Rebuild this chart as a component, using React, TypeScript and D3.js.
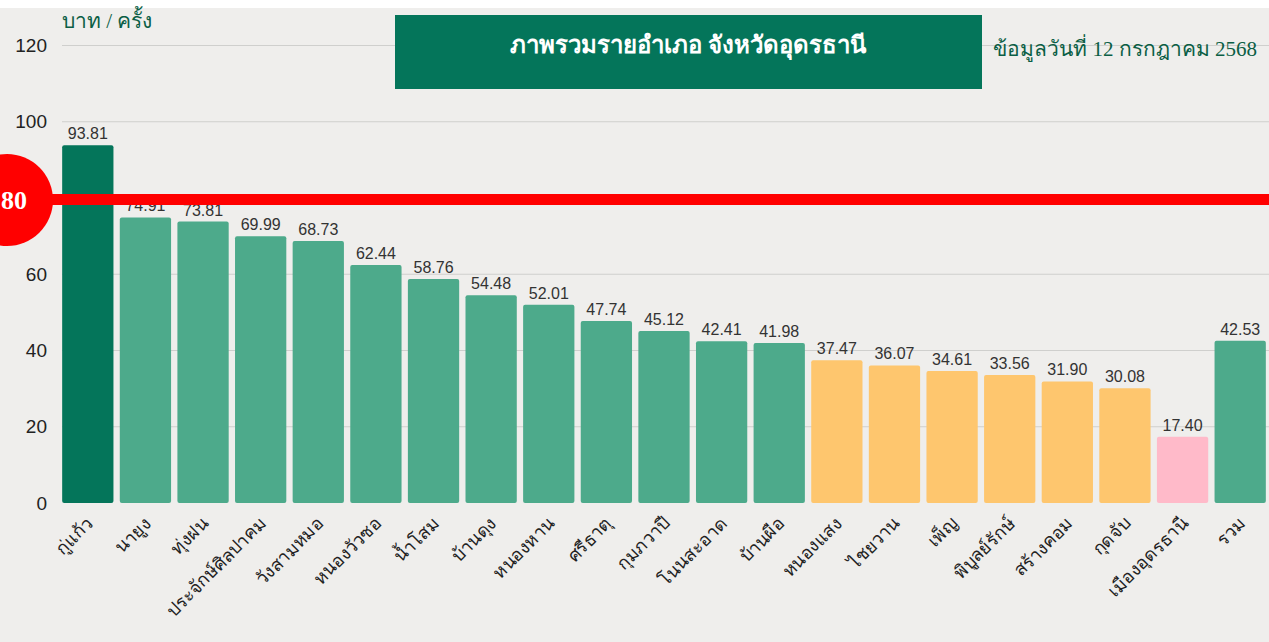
import * as d3 from 'd3';
import { useEffect, useRef } from 'react';

const districts = [
  'กู่แก้ว', 'นายูง', 'ทุ่งฝน', 'ประจักษ์ศิลปาคม', 'วังสามหมอ', 'หนองวัวซอ', 'น้ำโสม',
  'บ้านดุง', 'หนองหาน', 'ศรีธาตุ', 'กุมภวาปี', 'โนนสะอาด', 'บ้านผือ', 'หนองแสง',
  'ไชยวาน', 'เพ็ญ', 'พิบูลย์รักษ์', 'สร้างคอม', 'กุดจับ', 'เมืองอุดรธานี', 'รวม',
];
const values = [
  93.81, 74.91, 73.81, 69.99, 68.73, 62.44, 58.76, 54.48, 52.01, 47.74, 45.12,
  42.41, 41.98, 37.47, 36.07, 34.61, 33.56, 31.90, 30.08, 17.40, 42.53,
];
const yTicks = [0, 20, 40, 60, 80, 100, 120];
const target = 80;
const title = 'ภาพรวมรายอำเภอ จังหวัดอุดรธานี';
const dateNote = 'ข้อมูลวันที่ 12 กรกฎาคม 2568';
const unitLabel = 'บาท / ครั้ง';

const barColor = (i: number, v: number) => {
  if (i === 0) return '#04755a';
  if (districts[i] === 'รวม') return '#4daa8b';
  if (v >= 40) return '#4daa8b';
  if (v >= 20) return '#fec66e';
  return '#ffbac9';
};

const App = () => {
  const svgRef = useRef<SVGSVGElement | null>(null);

  useEffect(() => {
    if (!svgRef.current) return;
    const width = 1269;
    const height = 642;

    const svg = d3.select(svgRef.current)
      .html('')
      .attr('width', width)
      .attr('height', height);

    // background
    svg.append('rect').attr('width', width).attr('height', height).attr('fill', '#ffffff');
    svg.append('rect').attr('y', 8).attr('width', width).attr('height', height - 8).attr('fill', '#efeeec');

    const x = d3.scaleBand<string>()
      .domain(districts)
      .range([59, 1269])
      .paddingInner(0.11)
      .paddingOuter(0.055);

    const y = d3.scaleLinear()
      .domain([0, 120])
      .range([503, 45.5]);

    // gridlines
    svg.append('g')
      .selectAll('line')
      .data(yTicks.filter(t => t > 0))
      .enter().append('line')
      .attr('x1', 62)
      .attr('x2', width)
      .attr('y1', d => y(d))
      .attr('y2', d => y(d))
      .attr('stroke', '#cfcfcd')
      .attr('stroke-width', 1);

    // y tick labels
    svg.append('g')
      .selectAll('text')
      .data(yTicks)
      .enter().append('text')
      .attr('x', 47)
      .attr('y', d => y(d))
      .attr('dy', '0.35em')
      .attr('text-anchor', 'end')
      .attr('fill', '#222')
      .style('font-family', '"Liberation Sans", Arial, sans-serif')
      .style('font-size', '19px')
      .text(d => d);

    // bars
    svg.append('g')
      .selectAll('rect')
      .data(values)
      .enter().append('rect')
      .attr('x', (d, i) => x(districts[i])!)
      .attr('y', d => y(d))
      .attr('width', x.bandwidth())
      .attr('height', d => y(0) - y(d))
      .attr('rx', 2)
      .attr('fill', (d, i) => barColor(i, d));

    // value labels
    svg.append('g')
      .selectAll('text')
      .data(values)
      .enter().append('text')
      .attr('x', (d, i) => x(districts[i])! + x.bandwidth() / 2)
      .attr('y', d => y(d) - 6)
      .attr('text-anchor', 'middle')
      .attr('fill', '#333')
      .style('font-family', '"Liberation Sans", Arial, sans-serif')
      .style('font-size', '16px')
      .text(d => d.toFixed(2));

    // x labels
    svg.append('g')
      .selectAll('text')
      .data(districts)
      .enter().append('text')
      .attr('transform', d => `translate(${x(d)! + x.bandwidth() / 2 + 2},${520}) rotate(-45)`)
      .attr('text-anchor', 'end')
      .attr('dy', '0.35em')
      .attr('fill', '#222')
      .style('font-family', '"Noto Sans", sans-serif')
      .style('font-size', '18px')
      .text(d => d);

    // target line
    svg.append('line')
      .attr('x1', 30)
      .attr('x2', width)
      .attr('y1', y(target) + 1.5)
      .attr('y2', y(target) + 1.5)
      .attr('stroke', '#ff0000')
      .attr('stroke-width', 11);

    svg.append('circle')
      .attr('cx', 7)
      .attr('cy', y(target) + 2)
      .attr('r', 46)
      .attr('fill', '#ff0000');

    svg.append('text')
      .attr('x', 14)
      .attr('y', y(target) + 2)
      .attr('dy', '0.35em')
      .attr('text-anchor', 'middle')
      .attr('fill', '#fff')
      .style('font-family', '"Liberation Serif", serif')
      .style('font-weight', 'bold')
      .style('font-size', '26px')
      .text(target);

    // unit label
    svg.append('text')
      .attr('x', 62)
      .attr('y', 28)
      .attr('fill', '#0b5e45')
      .style('font-family', '"Liberation Serif", serif')
      .style('font-size', '21px')
      .text(unitLabel);

    // title box
    svg.append('rect')
      .attr('x', 395)
      .attr('y', 15)
      .attr('width', 587)
      .attr('height', 74)
      .attr('fill', '#04755a');

    svg.append('text')
      .attr('x', 688)
      .attr('y', 53)
      .attr('text-anchor', 'middle')
      .attr('fill', '#fff')
      .style('font-family', '"Liberation Serif", serif')
      .style('font-weight', 'bold')
      .style('font-size', '24px')
      .text(title);

    svg.append('text')
      .attr('x', 1257)
      .attr('y', 56)
      .attr('text-anchor', 'end')
      .attr('fill', '#0b5e45')
      .style('font-family', '"Liberation Serif", serif')
      .style('font-size', '21px')
      .text(dateNote);
  }, []);

  return (
    <svg
      ref={svgRef}
      style={{ position: 'absolute', left: 0, top: 0, display: 'block' }}
    />
  );
};

export default App;
